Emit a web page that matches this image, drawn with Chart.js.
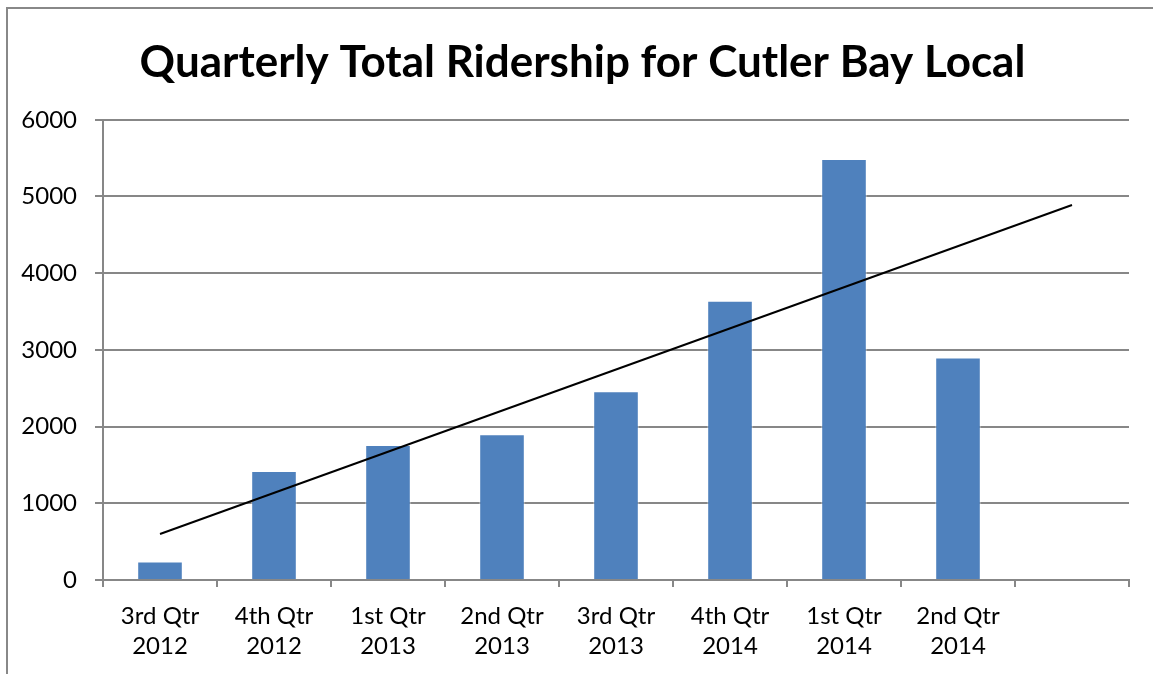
<!DOCTYPE html>
<html>
<head>
<meta charset="utf-8">
<title>Quarterly Total Ridership for Cutler Bay Local</title>
<script src="https://cdn.jsdelivr.net/npm/chart.js@4.4.1/dist/chart.umd.min.js"></script>
<style>
    html, body { margin: 0; padding: 0; background: #fff; overflow: hidden; }
    #wrap { position: relative; width: 1153px; height: 674px; }
    #frame {
        position: absolute; left: 6px; top: 7px;
        width: 1200px; height: 720px;
        border: 2px solid #888;
        box-sizing: border-box;
    }
    #chart { position: absolute; left: 0; top: 0; }
</style>
</head>
<body>
<div id="wrap">
    <div id="frame"></div>
    <canvas id="chart" width="1153" height="674"></canvas>
</div>
<script>
// Chart data
const quarters = [
    ['3rd Qtr', '2012'], ['4th Qtr', '2012'], ['1st Qtr', '2013'], ['2nd Qtr', '2013'],
    ['3rd Qtr', '2013'], ['4th Qtr', '2014'], ['1st Qtr', '2014'], ['2nd Qtr', '2014'],
    ''
];
const ridership = [240, 1420, 1760, 1900, 2460, 3640, 5490, 2900];
// linear trend line, start and end
const trend = [600, null, null, null, null, null, null, null, 4890];
const yTicks = { min: 0, max: 6000, step: 1000 };

const gridGray = '#878787';
const fontFamily = 'Lato, "Open Sans", sans-serif';

// the title in the original sits a bit right of the canvas centre
const titleShift = {
    id: 'titleShift',
    afterLayout: function(chart) {
        const t = chart.titleBlock;
        if (t) {
            t.left += 13;
            t.right += 13;
        }
    }
};

document.addEventListener('DOMContentLoaded', function() {
    const ctx = document.getElementById('chart').getContext('2d');

    new Chart(ctx, {
        data: {
            labels: quarters,
            datasets: [{
                type: 'line',
                label: 'Linear trend',
                data: trend,
                borderColor: '#000',
                borderWidth: 2,
                pointRadius: 0,
                spanGaps: true,
                fill: false,
                order: 0
            }, {
                type: 'bar',
                label: 'Ridership',
                data: ridership,
                backgroundColor: '#4f81bd',
                borderColor: 'rgba(255, 255, 255, 0.45)',
                borderWidth: 1,
                categoryPercentage: 1.0,
                barPercentage: 0.4,
                order: 1
            }]
        },
        options: {
            responsive: false,
            animation: false,
            layout: {
                padding: { left: 10, right: 24, top: 0, bottom: 0 }
            },
            plugins: {
                legend: { display: false },
                tooltip: { enabled: false },
                title: {
                    display: true,
                    text: 'Quarterly Total Ridership for Cutler Bay Local',
                    color: '#000',
                    font: { family: fontFamily, size: 44, weight: 'bold', lineHeight: 1.2 },
                    padding: { top: 36, bottom: 31 }
                }
            },
            scales: {
                x: {
                    offset: true,
                    grid: {
                        offset: true,
                        drawOnChartArea: false,
                        drawTicks: true,
                        tickLength: 7,
                        color: gridGray,
                        lineWidth: 2
                    },
                    border: { color: gridGray, width: 2 },
                    ticks: {
                        color: '#000',
                        padding: 14,
                        maxRotation: 0,
                        autoSkip: false,
                        font: { family: fontFamily, size: 24, lineHeight: 1.25 }
                    },
                    afterFit: function(scale) { scale.height = 94; }
                },
                y: {
                    min: yTicks.min,
                    max: yTicks.max,
                    grid: {
                        color: gridGray,
                        lineWidth: 2,
                        drawTicks: true,
                        tickLength: 8
                    },
                    border: { color: gridGray, width: 2 },
                    ticks: {
                        stepSize: yTicks.step,
                        color: '#000',
                        padding: 18,
                        font: { family: fontFamily, size: 24 },
                        callback: function(value) {
                            return String(value);
                        }
                    },
                    afterFit: function(scale) { scale.width = 93; }
                }
            }
        },
        plugins: [titleShift]
    });
});
</script>
</body>
</html>
